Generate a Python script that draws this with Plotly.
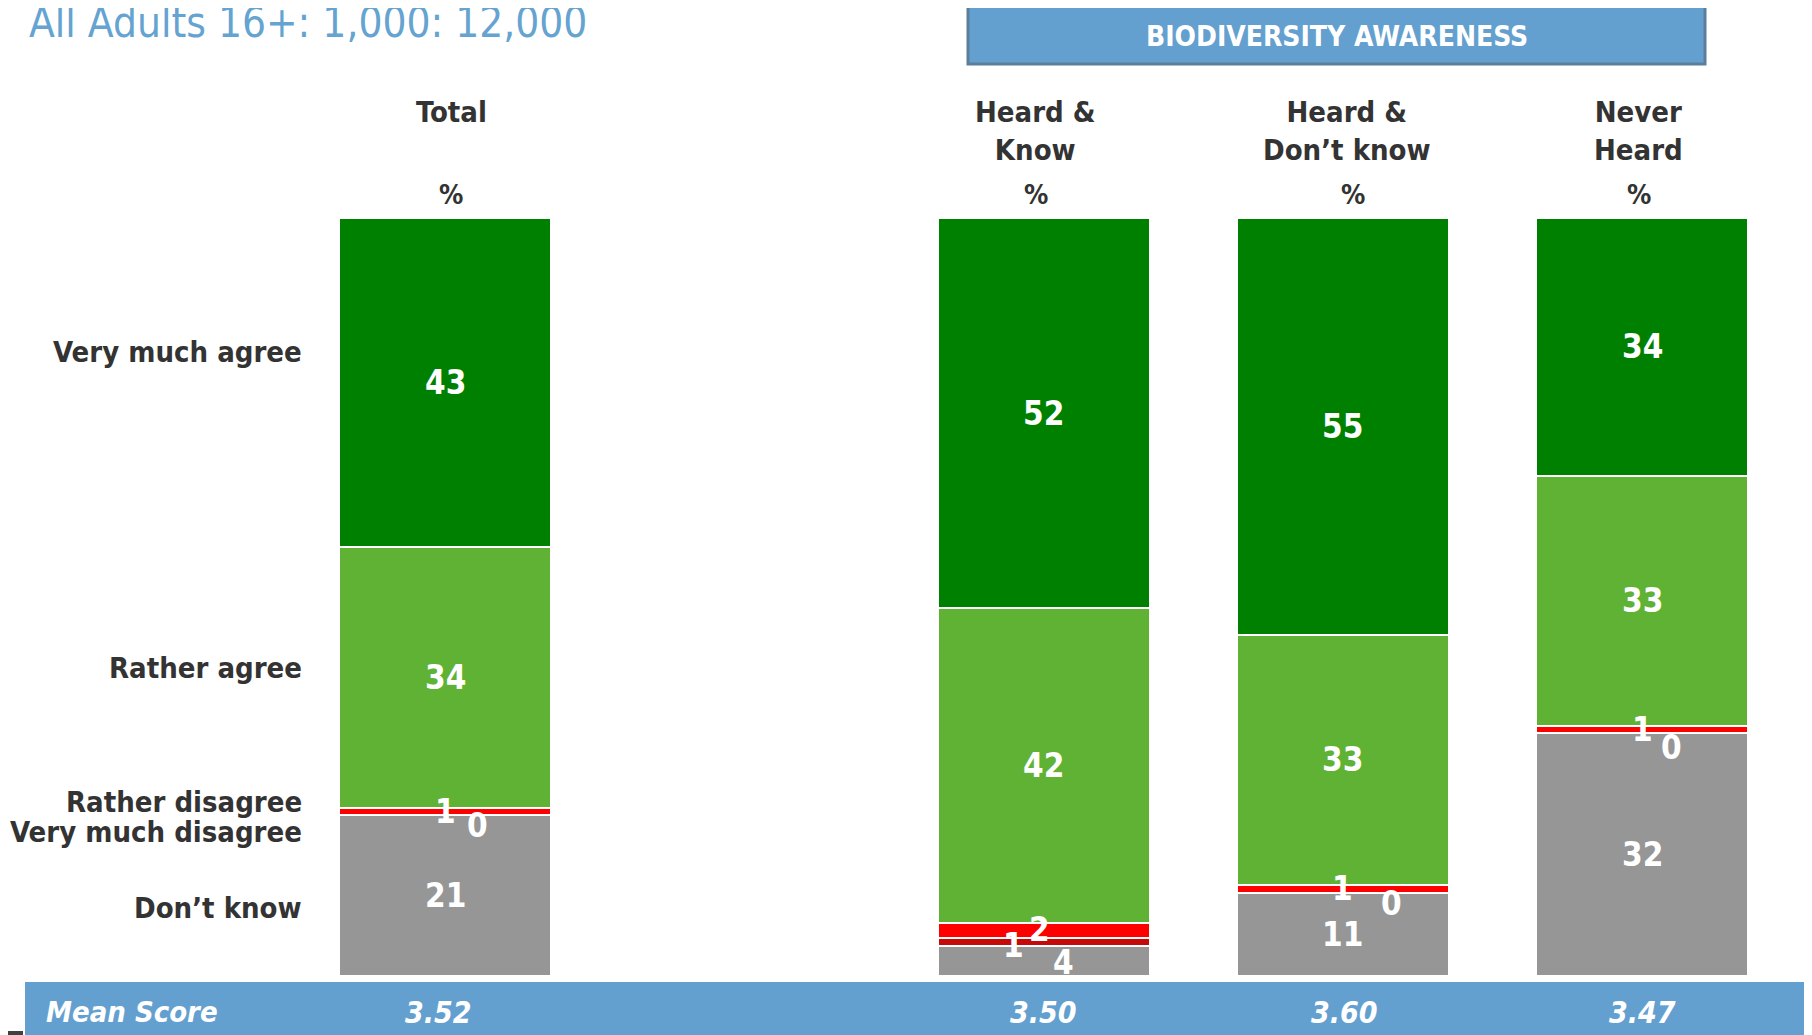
import plotly.graph_objects as go

# ---- data ----
groups = ["Total", "Heard &<br>Know", "Heard &<br>Don’t know", "Never<br>Heard"]
x_pos = [0, 2, 3, 4]  # slot 1 left empty as a gap
dont_know = [21, 4, 11, 32]
very_disagree = [0, 1, 0, 0]
rather_disagree = [1, 2, 1, 1]
rather_agree = [34, 42, 33, 33]
very_agree = [43, 52, 55, 34]
mean_scores = ["3.52", "3.50", "3.60", "3.47"]

title_text = "All Adults 16+: 1,000: 12,000"
banner_text = "BIODIVERSITY AWARENESS"
row_labels = ["Very much agree", "Rather agree", "Rather disagree", "Very much disagree", "Don’t know"]

W, H = 1812, 1035
OFF = 8  # page body margin, everything below is in screen pixels
FONT = "DejaVu Sans Condensed, DejaVu Sans, sans-serif"
DARK = "#333333"
BLUE = "#64A0CF"


def px(x):
    return (x - OFF) / W


def py(y):
    return 1 - (y - OFF) / H


# axis scaling: slot spacing / 100% height in screen pixels
SLOT = 299.3
X0_PIX = 445 - OFF
PCT = 7.58
Y0_PIX = 976 - OFF
x_range = [-X0_PIX / SLOT, (W - X0_PIX) / SLOT]
y_min = -(H - Y0_PIX) / PCT
y_range = [y_min, y_min + H / PCT]

series = [
    ("Don’t know", dont_know, "#969696"),
    ("Very much disagree", very_disagree, "#C50A0A"),
    ("Rather disagree", rather_disagree, "#FF0000"),
    ("Rather agree", rather_agree, "#5FB233"),
    ("Very much agree", very_agree, "#008000"),
]

fig = go.Figure()
for name, vals, color in series:
    fig.add_trace(go.Bar(
        x=x_pos, y=vals, name=name, width=0.708,
        marker=dict(color=color, line=dict(color="white", width=2)),
        showlegend=False,
        hovertemplate=name + ": %{customdata}%<extra></extra>",
        customdata=vals,
    ))

# label nudges for the thin segments (pixels)
nudges = {
    (1, 0): (32, -10), (2, 0): (0, 0),
    (0, 1): (20, -2), (1, 1): (-30, -3), (2, 1): (-4, 1),
    (1, 2): (49, -11), (2, 2): (0, 0),
    (1, 3): (29, -14), (2, 3): (0, 0),
}

annotations = []
for gi, xp in enumerate(x_pos):
    total = sum(s[1][gi] for s in series)
    base = 0
    for si, (name, vals, color) in enumerate(series):
        v = vals[gi]
        mid = (base + v / 2) / total * 100
        dx, dy = nudges.get((si, gi), (0, 0))
        annotations.append(dict(
            x=xp, y=mid, xref="x", yref="y", text=str(v), showarrow=False,
            xanchor="center", yanchor="middle", xshift=dx, yshift=dy,
            font=dict(family=FONT, size=33, color="white", weight="bold"),
        ))
        base += v

# column headers (small horizontal offsets as in the original slide)
head_dx = [6, -8, 4, -4]
pct_dx = [6, -8, 10, -3]
mean_dx = [-7, 0, 2, 0]
for g, xp, hd, pd in zip(groups, x_pos, head_dx, pct_dx):
    annotations.append(dict(
        x=xp, y=py(93), xref="x", yref="paper", text=g, showarrow=False,
        xanchor="center", yanchor="top", xshift=hd,
        font=dict(family=FONT, size=29, color=DARK, weight="bold"),
    ))
    annotations.append(dict(
        x=xp, y=py(194), xref="x", yref="paper", text="%", showarrow=False,
        xanchor="center", yanchor="middle", xshift=pd,
        font=dict(family=FONT, size=27, color=DARK, weight="bold"),
    ))

# row labels on the left
for lab, yy in zip(row_labels, [352, 668, 802, 832, 908]):
    annotations.append(dict(
        x=px(304), y=py(yy), xref="paper", yref="paper", text=lab, showarrow=False,
        xanchor="right", yanchor="middle",
        font=dict(family=FONT, size=29, color=DARK, weight="bold"),
    ))

# mean score row
annotations.append(dict(
    x=px(44), y=py(1012), xref="paper", yref="paper", text="<i>Mean Score</i>",
    showarrow=False, xanchor="left", yanchor="middle",
    font=dict(family=FONT, size=29, color="white", weight="bold"),
))
for m, xp, md in zip(mean_scores, x_pos, mean_dx):
    annotations.append(dict(
        x=xp, y=py(1012), xref="x", yref="paper", text="<i>" + m + "</i>",
        showarrow=False, xanchor="center", yanchor="middle", xshift=md,
        font=dict(family=FONT, size=30, color="white", weight="bold"),
    ))

# title and banner
annotations.append(dict(
    x=px(27), y=py(23), xref="paper", yref="paper", text=title_text, showarrow=False,
    xanchor="left", yanchor="middle", font=dict(family=FONT, size=42, color="#65A3D0"),
))
annotations.append(dict(
    x=px(1337), y=py(36), xref="paper", yref="paper", text=banner_text, showarrow=False,
    xanchor="center", yanchor="middle",
    font=dict(family=FONT, size=28, color="white", weight="bold"),
))

shapes = [
    dict(type="rect", xref="paper", yref="paper", x0=px(968), x1=px(1705),
         y0=py(64), y1=py(6), fillcolor=BLUE, line=dict(color="#5B7E9B", width=3), layer="below"),
    dict(type="rect", xref="paper", yref="paper", x0=px(25), x1=1,
         y0=0, y1=py(982), fillcolor=BLUE, line=dict(width=0), layer="below"),
    dict(type="rect", xref="paper", yref="paper", x0=0, x1=px(23),
         y0=0, y1=py(1031), fillcolor="#404040", line=dict(width=0)),
]

fig.update_layout(
    width=W, height=H,
    margin=dict(l=0, r=0, t=0, b=0),
    barmode="stack", barnorm="percent",
    plot_bgcolor="white", paper_bgcolor="white",
    xaxis=dict(range=x_range, visible=False, fixedrange=True),
    yaxis=dict(range=y_range, visible=False, fixedrange=True),
    annotations=annotations,
    shapes=shapes,
    showlegend=False,
)

fig.write_html("out.html")
